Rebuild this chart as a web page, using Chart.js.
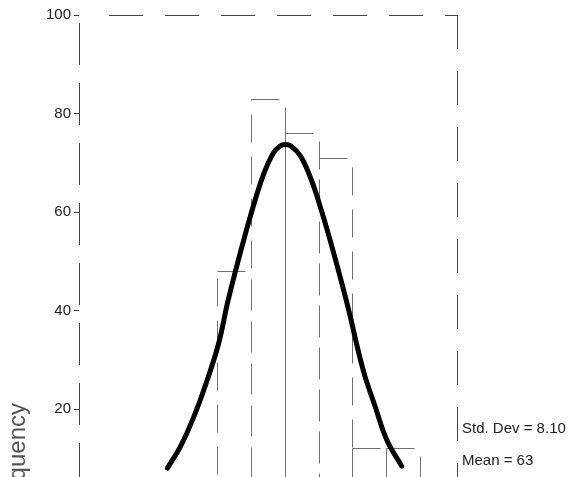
<!DOCTYPE html>
<html>
<head>
<meta charset="utf-8">
<script src="https://cdn.jsdelivr.net/npm/chart.js@4"></script>
<style>
  html, body { margin: 0; padding: 0; background: #fff; overflow: hidden; }
  #wrap { width: 572px; height: 540px; position: relative; }
</style>
</head>
<body>
<div id="wrap"><canvas id="hist" width="572" height="540"></canvas></div>
<script>
// ── Datos ──
const binCenters   = [55, 60, 65, 70, 75, 80];
const binCounts    = [48, 83, 76, 71, 12, 12];
const curveX       = [45.1, 47.0, 49.0, 51.0, 52.7, 54.1, 56.3, 57.7, 59.3, 60.8, 61.8, 62.6, 63.4, 64.8, 66.2, 67.4, 69.2, 71.7, 74.1, 75.9, 77.6, 79.8];
const curveY       = [8.0, 12.3, 18.4, 25.9, 33.4, 42.1, 53.8, 60.6, 67.5, 72.0, 73.4, 73.7, 73.4, 71.4, 67.3, 62.6, 54.3, 41.5, 27.9, 20.4, 13.7, 8.4];
const yTicks       = [0, 20, 40, 60, 80, 100];
const statLabels   = ['Std. Dev = 8.10', 'Mean = 63'];
const yAxisTitle   = 'Frequency';

const FONT = '"Liberation Sans", Arial, sans-serif';

// ── Helper: contorno de barras con trazo discontinuo ──
const barOutline = {
    id: 'barOutline',
    afterDatasetDraw(chart, args) {
        if (args.index !== 0) return;
        const ctx = chart.ctx;
        const ca = chart.chartArea;
        ctx.save();
        ctx.beginPath();
        ctx.rect(ca.left, ca.top - 2, ca.right - ca.left, ca.bottom - ca.top + 2);
        ctx.clip();
        ctx.strokeStyle = '#707070';
        ctx.lineWidth = 1;
        ctx.setLineDash([28, 14]);
        args.meta.data.forEach(function(bar) {
            const p = bar.getProps(['x', 'y', 'base', 'width'], true);
            const l = Math.round(p.x - p.width / 2) + 0.5;
            const r = Math.round(p.x + p.width / 2) + 0.5;
            const t = Math.round(p.y) + 0.5;
            ctx.strokeRect(l, t, r - l, p.base - t);
        });
        ctx.restore();
    }
};

// ── Marco (eje izq., arriba, derecha), título del eje y estadísticos ──
const extras = {
    id: 'extras',
    beforeDatasetsDraw(chart) {
        const ctx = chart.ctx;
        const ca = chart.chartArea;
        ctx.save();
        ctx.strokeStyle = '#444';
        ctx.lineWidth = 1;
        ctx.setLineDash([34, 22]);
        ctx.beginPath();
        ctx.moveTo(ca.left + 30, ca.top + 0.5);
        ctx.lineTo(ca.right, ca.top + 0.5);
        ctx.moveTo(ca.right + 0.5, ca.top);
        ctx.lineTo(ca.right + 0.5, ca.bottom);
        ctx.stroke();
        ctx.setLineDash([42, 18]);
        ctx.lineDashOffset = -8;
        ctx.beginPath();
        ctx.moveTo(ca.left + 0.5, ca.top);
        ctx.lineTo(ca.left + 0.5, ca.bottom);
        ctx.stroke();
        ctx.restore();
    },
    afterDraw(chart) {
        const ctx = chart.ctx;
        const ca = chart.chartArea;
        ctx.save();
        ctx.fillStyle = '#222';
        ctx.font = '15px ' + FONT;
        ctx.textAlign = 'left';
        ctx.textBaseline = 'alphabetic';
        statLabels.forEach(function(s, i) {
            ctx.fillText(s, ca.right + 5, 433 + i * 32);
        });
        // título del eje Y (cortado por abajo como en el original)
        ctx.fillStyle = '#555';
        ctx.font = '24px ' + FONT;
        ctx.translate(25, 403);
        ctx.rotate(-Math.PI / 2);
        ctx.textAlign = 'right';
        ctx.fillText(yAxisTitle, 0, 0);
        ctx.restore();
    }
};

new Chart(document.getElementById('hist').getContext('2d'), {
    type: 'bar',
    data: {
        datasets: [{
            type: 'bar',
            label: 'Frequency',
            data: binCenters.map(function(x, i) { return { x: x, y: binCounts[i] }; }),
            backgroundColor: 'rgba(0,0,0,0)',
            borderWidth: 0,
            barPercentage: 1,
            categoryPercentage: 1,
            order: 2
        }, {
            type: 'line',
            label: 'Normal',
            data: curveX.map(function(x, i) { return { x: x, y: curveY[i] }; }),
            borderColor: '#000',
            borderWidth: 5,
            borderCapStyle: 'round',
            pointRadius: 0,
            tension: 0.4,
            fill: false,
            order: 1
        }]
    },
    options: {
        responsive: false,
        animation: false,
        devicePixelRatio: 1,
        layout: { padding: { left: 0, right: 115, top: 15, bottom: 32.5 } },
        plugins: { legend: { display: false }, tooltip: { enabled: false } },
        scales: {
            x: {
                type: 'linear',
                min: 32,
                max: 88,
                offset: false,
                display: false,
                afterBuildTicks: function(s) { s.ticks = binCenters.map(function(v) { return { value: v }; }); }
            },
            y: {
                min: 0,
                max: 100,
                afterFit: function(s) { s.width = 79; },
                afterBuildTicks: function(s) { s.ticks = yTicks.map(function(v) { return { value: v }; }); },
                grid: { drawOnChartArea: false, drawTicks: true, tickLength: 5, color: '#333' },
                border: { display: false },
                ticks: { padding: 3, color: '#222', font: { family: FONT, size: 15 } }
            }
        }
    },
    plugins: [barOutline, extras]
});
</script>
</body>
</html>
